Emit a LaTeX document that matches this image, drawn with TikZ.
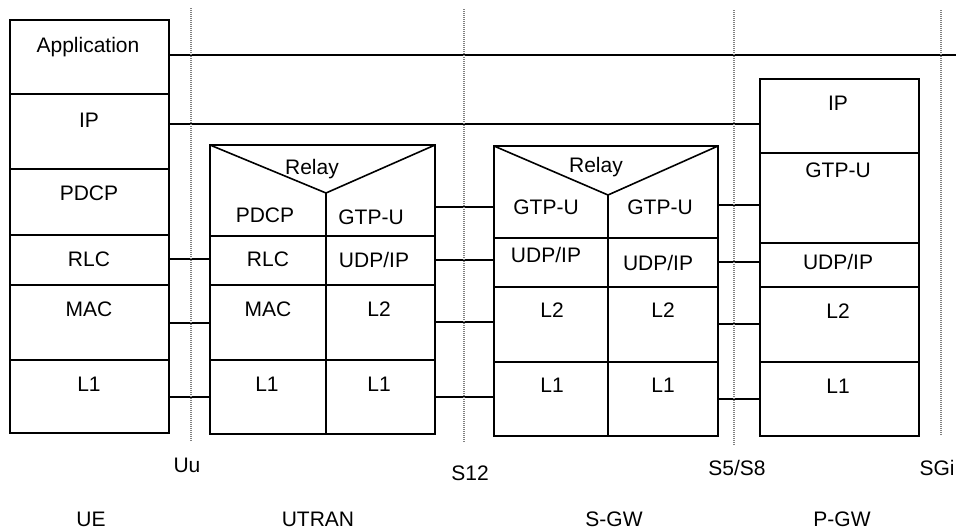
\documentclass[tikz,border=0pt]{standalone}
\usepackage{fontspec}
\setmainfont{Liberation Sans}
\newcommand\cell[5]{\node[cellbox, minimum width={#4-#2}, minimum height={#5-#3}] (#1) at ({(#2+#4)/2},{(#3+#5)/2}) {};}
\newcommand\txt[4]{\node[lbl] (#1) at (#2,#3) {#4};}
\begin{document}
\begin{tikzpicture}[x=1pt,y=-1pt,
  cellbox/.style={draw, line width=1.6pt, inner sep=0pt, outer sep=0pt, rectangle},
  cellline/.style={line width=1.6pt},
  lbl/.style={anchor=base, inner sep=0pt, font=\fontsize{21}{25}\selectfont},
  link/.style={line width=1.3pt},
  iface/.style={draw=black!50, line width=1.8pt, dash pattern=on 1pt off 1pt}]
\useasboundingbox (0,0) rectangle (956,531);
% UE
\cell{ue-app}{10}{20}{169}{94}
\cell{ue-ip}{10}{94}{169}{169}
\cell{ue-pdcp}{10}{169}{169}{235}
\cell{ue-rlc}{10}{235}{169}{285}
\cell{ue-mac}{10}{285}{169}{360}
\cell{ue-l1}{10}{360}{169}{433}
\txt{t-ue-app}{88}{52}{Application}
\txt{t-ue-ip}{89}{127}{IP}
\txt{t-ue-pdcp}{89}{200}{PDCP}
\txt{t-ue-rlc}{89}{266}{RLC}
\txt{t-ue-mac}{89}{316}{MAC}
\txt{t-ue-l1}{89}{391}{L1}
% UTRAN
\cell{ut-top}{210}{145}{435}{236}
\cell{ut-rlc}{210}{236}{326}{285}
\cell{ut-udp}{326}{236}{435}{285}
\cell{ut-mac}{210}{285}{326}{360}
\cell{ut-l2}{326}{285}{435}{360}
\cell{ut-l1a}{210}{360}{326}{434}
\cell{ut-l1b}{326}{360}{435}{434}
\coordinate (ut-v) at (326,193);
\draw[cellline] (ut-top.north west) -- (ut-v) -- (ut-top.north east);
\draw[cellline] (ut-v) -- (ut-v |- ut-top.south);
\txt{t-ut-relay}{312}{174}{Relay}
\txt{t-ut-pdcp}{265}{222}{PDCP}
\txt{t-ut-gtp}{371}{224}{GTP-U}
\txt{t-ut-rlc}{268}{266}{RLC}
\txt{t-ut-udp}{374}{267}{UDP/IP}
\txt{t-ut-mac}{268}{316}{MAC}
\txt{t-ut-l2}{379}{316}{L2}
\txt{t-ut-l1a}{267}{391}{L1}
\txt{t-ut-l1b}{379}{391}{L1}
% S-GW
\cell{sg-top}{494}{146}{718}{238}
\cell{sg-udpa}{494}{238}{608}{287}
\cell{sg-udpb}{608}{238}{718}{287}
\cell{sg-l2a}{494}{287}{608}{362}
\cell{sg-l2b}{608}{287}{718}{362}
\cell{sg-l1a}{494}{362}{608}{436}
\cell{sg-l1b}{608}{362}{718}{436}
\coordinate (sg-v) at (608,195);
\draw[cellline] (sg-top.north west) -- (sg-v) -- (sg-top.north east);
\draw[cellline] (sg-v) -- (sg-v |- sg-top.south);
\txt{t-sg-relay}{596}{172}{Relay}
\txt{t-sg-gtpa}{546}{214}{GTP-U}
\txt{t-sg-gtpb}{660}{214}{GTP-U}
\txt{t-sg-udpa}{546}{262}{UDP/IP}
\txt{t-sg-udpb}{658}{270}{UDP/IP}
\txt{t-sg-l2a}{552}{317}{L2}
\txt{t-sg-l2b}{663}{317}{L2}
\txt{t-sg-l1a}{552}{392}{L1}
\txt{t-sg-l1b}{663}{392}{L1}
% P-GW
\cell{pg-ip}{760}{79}{919}{153}
\cell{pg-gtp}{760}{153}{919}{243}
\cell{pg-udp}{760}{243}{919}{287}
\cell{pg-l2}{760}{287}{919}{362}
\cell{pg-l1}{760}{362}{919}{436}
\txt{t-pg-ip}{838}{110}{IP}
\txt{t-pg-gtp}{838}{177}{GTP-U}
\txt{t-pg-udp}{838}{269}{UDP/IP}
\txt{t-pg-l2}{838}{318}{L2}
\txt{t-pg-l1}{838}{393}{L1}
% connectors
\coordinate (app-end) at (956,55);
\draw[link] (ue-app.east |- app-end) -- (app-end);
\draw[link] (ue-ip.east |- 0,124) -- (pg-ip.west |- 0,124);
\draw[link] (ue-rlc.east |- 0,259) -- (ut-rlc.west |- 0,259);
\draw[link] (ue-mac.east |- 0,323) -- (ut-mac.west |- 0,323);
\draw[link] (ue-l1.east |- 0,397) -- (ut-l1a.west |- 0,397);
\draw[link] (ut-top.east |- 0,207) -- (sg-top.west |- 0,207);
\draw[link] (ut-udp.east |- 0,260) -- (sg-udpa.west |- 0,260);
\draw[link] (ut-l2.east |- 0,322) -- (sg-l2a.west |- 0,322);
\draw[link] (ut-l1b.east |- 0,397) -- (sg-l1a.west |- 0,397);
\draw[link] (sg-top.east |- 0,205) -- (pg-gtp.west |- 0,205);
\draw[link] (sg-udpb.east |- 0,262) -- (pg-udp.west |- 0,262);
\draw[link] (sg-l2b.east |- 0,324) -- (pg-l2.west |- 0,324);
\draw[link] (sg-l1b.east |- 0,399) -- (pg-l1.west |- 0,399);
% interfaces
\draw[iface] (191,8) -- (191,442);
\draw[iface] (464,9) -- (464,443);
\draw[iface] (734,10) -- (734,445);
\draw[iface] (941,10) -- (941,436);
\txt{t-uu}{187}{472}{Uu}
\txt{t-s12}{470}{480}{S12}
\txt{t-s5}{737}{475}{S5/S8}
\txt{t-sgi}{937}{475}{SGi}
\txt{t-ue}{91}{526}{UE}
\txt{t-utran}{318}{526}{UTRAN}
\txt{t-sgw}{614}{526}{S-GW}
\txt{t-pgw}{842}{526}{P-GW}
\end{tikzpicture}
\end{document}
